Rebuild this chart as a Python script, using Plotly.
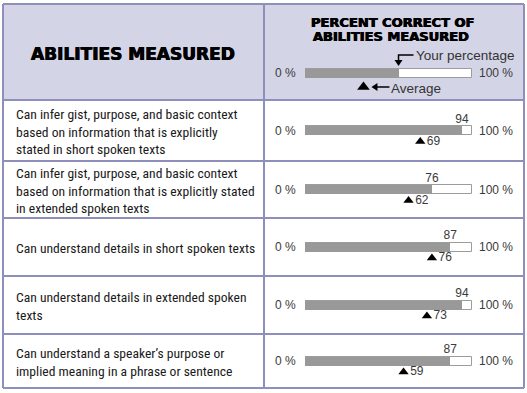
import plotly.graph_objects as go

# ---------------- data ----------------
abilities = [
    "Can infer gist, purpose, and basic context<br>based on information that is explicitly<br>stated in short spoken texts",
    "Can infer gist, purpose, and basic context<br>based on information that is explicitly stated<br>in extended spoken texts",
    "Can understand details in short spoken texts",
    "Can understand details in extended spoken<br>texts",
    "Can understand a speaker\u2019s purpose or<br>implied meaning in a phrase or sentence",
]
your_pct = [94, 76, 87, 94, 87]
avg_pct = [69, 62, 76, 73, 59]
legend_your = 56
legend_avg = 35
scale_labels = ["0 %", "100 %"]
col_titles = ["ABILITIES MEASURED", "PERCENT CORRECT OF", "ABILITIES MEASURED"]
legend_texts = ["Your percentage", "Average"]

# ---------------- layout constants ----------------
W, H = 527, 393
LEFT, RIGHT, TOP, BOTTOM = 3, 524, 4, 388
HEAD_B = 100
MID = 264
row_edges = [HEAD_B, 161, 218, 276, 334, BOTTOM]
centers = [(row_edges[i] + row_edges[i + 1]) / 2 for i in range(len(row_edges) - 1)]
BAR_X0, BAR_X1 = 305, 472
BAR_H = 9
LEG_Y = 73
BORDER = "#8e90bb"
HEAD_FILL = "#d4d4e7"
GRAY = "#999999"
TXT = "#1a1a1a"
NUM = "#3a3a3a"
NARROW = "Roboto Condensed, Arial Narrow, sans-serif"
SANS = "Liberation Sans, Arial, sans-serif"
BOLD = "DejaVu Sans, Verdana, sans-serif"
HEAVY = "0.45px 0 0 #000, -0.45px 0 0 #000"

fig = go.Figure()

all_y = centers + [LEG_Y]
# white background bars (100 %)
fig.add_trace(go.Bar(
    x=[100] * len(all_y), y=all_y, orientation="h", width=BAR_H,
    marker=dict(color="white", line=dict(color="#9c9c9c", width=1)),
    xaxis="x2", yaxis="y2", hoverinfo="skip", showlegend=False))
# your percentage bars
fig.add_trace(go.Bar(
    x=your_pct + [legend_your], y=all_y, orientation="h", width=BAR_H,
    marker=dict(color=GRAY, line=dict(width=0)),
    xaxis="x2", yaxis="y2", hoverinfo="skip", showlegend=False))
# value labels above bars
fig.add_trace(go.Scatter(
    x=your_pct, y=[c - 11 for c in centers], mode="text",
    text=[str(v) for v in your_pct], textposition="middle center",
    textfont=dict(family=SANS, size=12, color=NUM),
    xaxis="x2", yaxis="y2", hoverinfo="skip", showlegend=False))
# average triangles with labels
fig.add_trace(go.Scatter(
    x=avg_pct, y=[c + 11 for c in centers], mode="markers+text",
    marker=dict(symbol="triangle-up", size=9, color="black"),
    text=[str(v) for v in avg_pct], textposition="middle right",
    textfont=dict(family=SANS, size=12, color=NUM),
    xaxis="x2", yaxis="y2", hoverinfo="skip", showlegend=False))
# legend triangle
fig.add_trace(go.Scatter(
    x=[legend_avg], y=[LEG_Y + 14], mode="markers",
    marker=dict(symbol="triangle-up", size=11, color="black"),
    xaxis="x2", yaxis="y2", hoverinfo="skip", showlegend=False))

shapes = []
# header fill
shapes.append(dict(type="rect", xref="x", yref="y", x0=LEFT, x1=RIGHT, y0=TOP, y1=HEAD_B,
                   fillcolor=HEAD_FILL, line=dict(width=0), layer="below"))
# horizontal lines
for yy in [TOP] + row_edges:
    shapes.append(dict(type="line", xref="x", yref="y", x0=LEFT, x1=RIGHT, y0=yy, y1=yy,
                       line=dict(color=BORDER, width=2)))
# vertical lines
for xx in [LEFT, MID, RIGHT]:
    shapes.append(dict(type="line", xref="x", yref="y", x0=xx, x1=xx, y0=TOP, y1=BOTTOM,
                       line=dict(color=BORDER, width=2)))
# legend arrows
x_your = BAR_X0 + (BAR_X1 - BAR_X0) * legend_your / 100
x_avg = BAR_X0 + (BAR_X1 - BAR_X0) * legend_avg / 100
shapes.append(dict(type="path", xref="x", yref="y",
                   path=f"M {x_your+15} 55 L {x_your} 55 L {x_your} 61",
                   line=dict(color="black", width=1.5)))
shapes.append(dict(type="path", xref="x", yref="y",
                   path=f"M {x_your-4} 60 L {x_your+4} 60 L {x_your} 66 Z",
                   fillcolor="black", line=dict(width=0)))
shapes.append(dict(type="line", xref="x", yref="y", x0=x_avg + 10, x1=x_avg + 26,
                   y0=LEG_Y + 14, y1=LEG_Y + 14, line=dict(color="black", width=1.5)))
shapes.append(dict(type="path", xref="x", yref="y",
                   path=f"M {x_avg+8} {LEG_Y+14} L {x_avg+14} {LEG_Y+10} L {x_avg+14} {LEG_Y+18} Z",
                   fillcolor="black", line=dict(width=0)))

ann = []
# header titles
ann.append(dict(x=(LEFT + MID) / 2 - 1, y=(TOP + HEAD_B) / 2 + 2, xref="x", yref="y",
                text=f"<b>{col_titles[0]}</b>", showarrow=False,
                font=dict(family=BOLD, size=17, color="black", shadow=HEAVY)))
ann.append(dict(x=392, y=22, xref="x", yref="y", text=f"<b>{col_titles[1]}</b>",
                showarrow=False, font=dict(family=BOLD, size=13, color="black", shadow=HEAVY)))
ann.append(dict(x=391, y=36, xref="x", yref="y", text=f"<b>{col_titles[2]}</b>",
                showarrow=False, font=dict(family=BOLD, size=13, color="black", shadow=HEAVY)))
ann.append(dict(x=x_your + 15, y=55, xref="x", yref="y", text=legend_texts[0],
                xanchor="left", showarrow=False, font=dict(family=SANS, size=13.5, color="#333")))
ann.append(dict(x=x_avg + 26, y=LEG_Y + 15, xref="x", yref="y", text=legend_texts[1],
                xanchor="left", showarrow=False, font=dict(family=SANS, size=13.5, color="#333")))
# row labels
for lab, c in zip(abilities, centers):
    ann.append(dict(x=14, y=c + 1, xref="x", yref="y", text=lab, xanchor="left", align="left",
                    showarrow=False, font=dict(family=NARROW, size=13.6, color=TXT)))
# scale labels
for c in centers + [LEG_Y]:
    ann.append(dict(x=0, y=c, xref="x2", yref="y2", text=scale_labels[0], xanchor="right",
                    xshift=-7, showarrow=False, font=dict(family=SANS, size=12, color=NUM)))
    ann.append(dict(x=100, y=c, xref="x2", yref="y2", text=scale_labels[1], xanchor="left",
                    xshift=5, showarrow=False, font=dict(family=SANS, size=12, color=NUM)))

fig.update_layout(
    width=W, height=H, margin=dict(l=0, r=0, t=0, b=0),
    paper_bgcolor="white", plot_bgcolor="rgba(0,0,0,0)",
    barmode="overlay", bargap=0,
    xaxis=dict(range=[0, W], domain=[0, 1], visible=False, fixedrange=True),
    yaxis=dict(range=[H, 0], domain=[0, 1], visible=False, fixedrange=True),
    xaxis2=dict(range=[0, 100], domain=[BAR_X0 / W, BAR_X1 / W], anchor="y2",
                visible=False, fixedrange=True),
    yaxis2=dict(range=[H, 0], domain=[0, 1], overlaying="y", anchor="x2",
                visible=False, fixedrange=True),
    shapes=shapes, annotations=ann, showlegend=False,
)

fig.write_html("out.html", config={"displayModeBar": False},
               post_script="document.body.style.margin='0px';")
